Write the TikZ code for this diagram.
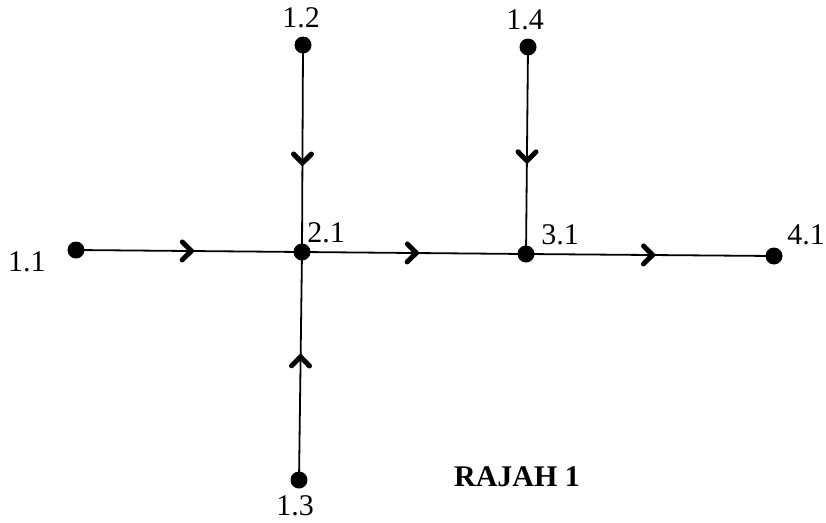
\documentclass[tikz,border=0pt]{standalone}
\usepackage{fontspec}
\setmainfont{Liberation Serif}
\usetikzlibrary{decorations.markings}
\begin{document}
\begin{tikzpicture}[x=1pt,y=-1pt,
  dot/.style={circle,fill=black,minimum size=17pt,inner sep=0pt},
  lbl/.style={font=\fontsize{30}{34}\selectfont,inner sep=0pt},
  edge/.style={line width=1.8pt,postaction={decorate},
    decoration={markings,mark=at position #1 with {\draw[line width=5pt,line cap=round,line join=miter] (-9pt,-9pt) -- (0pt,0pt) -- (-9pt,9pt);}}}
]
\useasboundingbox (0,0) rectangle (826,522);
\node[dot] (n11) at (76,250) {};
\node[dot] (n21) at (302,252) {};
\node[dot] (n12) at (303,45) {};
\node[dot] (n14) at (528,47) {};
\node[dot] (n31) at (526,254) {};
\node[dot] (n41) at (774,256) {};
\node[dot] (n13) at (299,480) {};

\node[lbl] (t11) at (27,262) {1.1};
\node[lbl] (t21) at (326,233) {2.1};
\node[lbl] (t12) at (301,18) {1.2};
\node[lbl] (t14) at (525,20) {1.4};
\node[lbl] (t31) at (560,235) {3.1};
\node[lbl] (t41) at (806,235) {4.1};
\node[lbl] (t13) at (295,506) {1.3};
\node[font=\bfseries\fontsize{30}{34}\selectfont,inner sep=0pt] (title) at (517,477) {RAJAH 1};

\draw[edge=0.51] (n11.center) -- (n21.center);
\draw[edge=0.51] (n21.center) -- (n31.center);
\draw[edge=0.51] (n31.center) -- (n41.center);
\draw[edge=0.57] (n12.center) -- (n21.center);
\draw[edge=0.55] (n14.center) -- (n31.center);
\draw[edge=0.54] (n13.center) -- (n21.center);
\end{tikzpicture}
\end{document}
